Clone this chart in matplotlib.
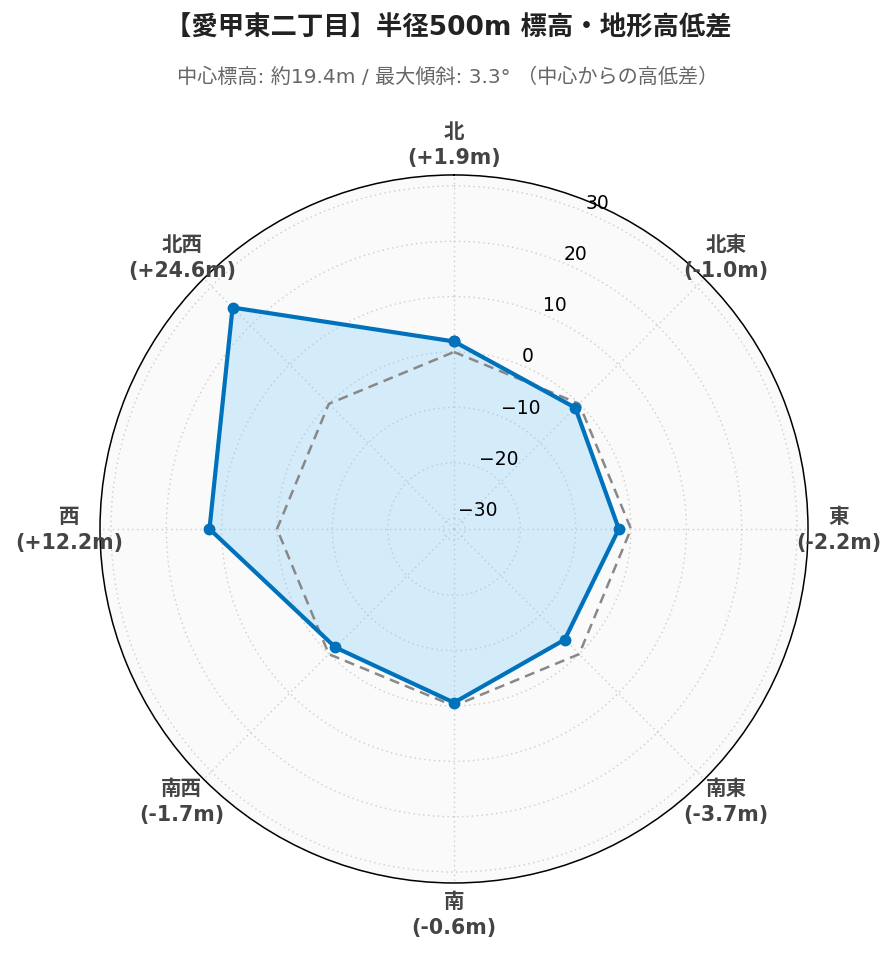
import numpy as np
import matplotlib
matplotlib.use("Agg")
import matplotlib.pyplot as plt

plt.rcParams['font.family'] = ['DejaVu Sans', 'Noto Sans CJK JP']

# 方位と中心からの高低差 (m)
directions = ["北", "北東", "東", "南東", "南", "南西", "西", "北西"]
diffs = [1.9, -1.0, -2.2, -3.7, -0.6, -1.7, 12.2, 24.6]
baseline = [0.0] * 8
r_ticks = [-30, -20, -10, 0, 10, 20, 30]

title = "【愛甲東二丁目】半径500m 標高・地形高低差"
subtitle = "中心標高: 約19.4m / 最大傾斜: 3.3° （中心からの高低差）"

rmax = max(abs(v) for v in diffs) * 1.3

theta = np.deg2rad(np.arange(len(directions)) * 45.0)
theta_c = np.append(theta, theta[0])
vals_c = np.append(diffs, diffs[0])
base_c = np.append(baseline, baseline[0])

fig = plt.figure(figsize=(8.96, 9.62), dpi=100)
ax = fig.add_axes([0.1116, 0.0811, 0.7902, 0.736], projection="polar")
ax.set_theta_zero_location("N")
ax.set_theta_direction(-1)
ax.set_facecolor("#fafafa")
ax.set_ylim(-rmax, rmax)

ax.set_xticks(theta)
ax.set_xticklabels([])
ax.set_yticks(r_ticks)
ax.set_yticklabels([])
ax.grid(True, color="#cccccc", linestyle=(0, (1, 2.5)), linewidth=1.0)
ax.spines["polar"].set_color("black")
ax.spines["polar"].set_linewidth(1.1)
ax.tick_params(length=0)

# 基準線 (0m)
ax.plot(theta_c, base_c, color="#888888", linewidth=1.8,
        linestyle=(0, (4, 2.5)), zorder=4)
# 高低差
ax.fill(theta_c, vals_c, color="#87cefa", alpha=0.33, zorder=3)
ax.plot(theta_c, vals_c, color="#0072bb", linewidth=3.0, marker="o",
        markersize=7.5, zorder=5)

# 半径目盛りラベル
lab_ang = np.deg2rad(22.5)
for t in r_ticks:
    ax.text(lab_ang, t, f"{t}".replace("-", "\u2212"), ha="left", va="bottom",
            fontsize=13.5, color="black", zorder=6)

# 方位ラベル
r_lab = -rmax + 2 * rmax * 385 / 354
for ang, name, d in zip(theta, directions, diffs):
    ax.text(ang, r_lab, f"{name}\n({d:+.1f}m)", ha="center", va="center",
            fontsize=14.8, fontweight="bold", color="#444444",
            linespacing=1.4, clip_on=False)

fig.text(0.5, 1 - 28 / 962, title, ha="center", va="center",
         fontsize=19, fontweight="bold", color="#222222")
fig.text(0.5, 1 - 77 / 962, subtitle, ha="center", va="center",
         fontsize=14.5, color="#666666")

fig.savefig("out.png", dpi=100)
